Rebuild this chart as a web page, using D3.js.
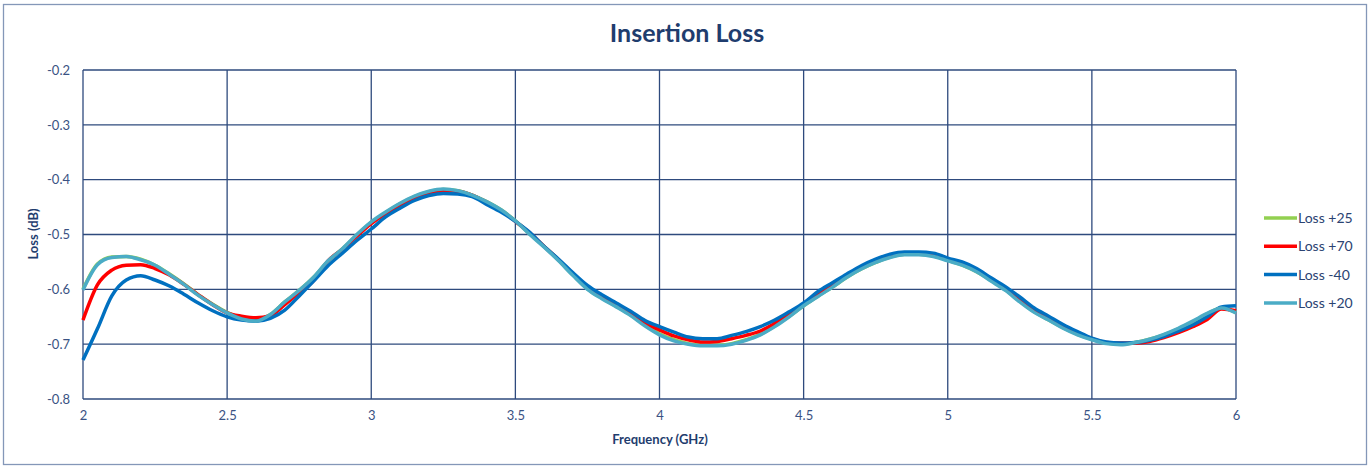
<!DOCTYPE html>
<html>
<head>
<meta charset="utf-8">
<script src="https://cdn.jsdelivr.net/npm/d3@7"></script>
<style>
  html, body { margin: 0; padding: 0; background: #fff; }
  svg { display: block; font-family: Lato, "Open Sans", sans-serif; }
</style>
</head>
<body>
<div id="chart"></div>
<script>
// frequency points (GHz)
const freq = [2.00,2.05,2.10,2.15,2.20,2.25,2.30,2.35,2.40,2.45,2.50,2.55,2.60,2.65,2.70,2.75,2.80,2.85,2.90,2.95,
  3.00,3.05,3.10,3.15,3.20,3.25,3.30,3.35,3.40,3.45,3.50,3.55,3.60,3.65,3.70,3.75,3.80,3.85,3.90,3.95,
  4.00,4.05,4.10,4.15,4.20,4.25,4.30,4.35,4.40,4.45,4.50,4.55,4.60,4.65,4.70,4.75,4.80,4.85,4.90,4.95,
  5.00,5.05,5.10,5.15,5.20,5.25,5.30,5.35,5.40,5.45,5.50,5.55,5.60,5.65,5.70,5.75,5.80,5.85,5.90,5.95,6.00];

const loss25 = [-0.600,-0.554,-0.541,-0.540,-0.545,-0.556,-0.572,-0.590,-0.610,-0.627,-0.642,-0.653,-0.657,-0.646,-0.623,-0.602,-0.578,-0.549,-0.526,-0.501,
  -0.478,-0.460,-0.444,-0.431,-0.422,-0.418,-0.420,-0.428,-0.440,-0.455,-0.475,-0.499,-0.522,-0.547,-0.574,-0.599,-0.616,-0.631,-0.647,-0.665,
  -0.681,-0.692,-0.699,-0.702,-0.702,-0.699,-0.692,-0.682,-0.667,-0.649,-0.630,-0.612,-0.596,-0.578,-0.563,-0.551,-0.541,-0.536,-0.536,-0.539,
  -0.547,-0.556,-0.568,-0.584,-0.601,-0.622,-0.641,-0.656,-0.670,-0.682,-0.691,-0.698,-0.700,-0.697,-0.691,-0.683,-0.672,-0.659,-0.645,-0.634,-0.642];

const loss70 = [-0.656,-0.592,-0.565,-0.556,-0.555,-0.562,-0.574,-0.591,-0.610,-0.628,-0.643,-0.649,-0.652,-0.648,-0.628,-0.606,-0.584,-0.548,-0.527,-0.503,
  -0.480,-0.462,-0.447,-0.433,-0.424,-0.420,-0.421,-0.428,-0.441,-0.456,-0.476,-0.497,-0.522,-0.546,-0.572,-0.596,-0.613,-0.628,-0.643,-0.662,
  -0.674,-0.685,-0.692,-0.696,-0.695,-0.690,-0.684,-0.676,-0.662,-0.646,-0.628,-0.608,-0.594,-0.574,-0.560,-0.548,-0.538,-0.534,-0.534,-0.537,
  -0.545,-0.553,-0.566,-0.582,-0.600,-0.619,-0.638,-0.652,-0.667,-0.679,-0.690,-0.697,-0.698,-0.698,-0.695,-0.688,-0.679,-0.668,-0.655,-0.636,-0.639];

const lossM40 = [-0.729,-0.672,-0.612,-0.583,-0.575,-0.583,-0.594,-0.609,-0.625,-0.639,-0.650,-0.656,-0.658,-0.653,-0.638,-0.612,-0.585,-0.557,-0.534,-0.511,
  -0.490,-0.468,-0.452,-0.438,-0.429,-0.425,-0.426,-0.431,-0.445,-0.459,-0.476,-0.496,-0.522,-0.545,-0.570,-0.593,-0.610,-0.625,-0.640,-0.657,
  -0.668,-0.678,-0.687,-0.690,-0.690,-0.684,-0.677,-0.668,-0.656,-0.641,-0.625,-0.604,-0.588,-0.572,-0.557,-0.545,-0.536,-0.532,-0.532,-0.534,
  -0.543,-0.550,-0.562,-0.579,-0.595,-0.614,-0.634,-0.649,-0.664,-0.677,-0.689,-0.696,-0.698,-0.697,-0.693,-0.686,-0.676,-0.665,-0.650,-0.632,-0.630];

const loss20 = [-0.601,-0.555,-0.542,-0.540,-0.546,-0.556,-0.573,-0.591,-0.611,-0.628,-0.643,-0.654,-0.658,-0.646,-0.623,-0.602,-0.578,-0.548,-0.526,-0.500,
  -0.477,-0.459,-0.443,-0.430,-0.421,-0.417,-0.420,-0.428,-0.440,-0.455,-0.475,-0.500,-0.523,-0.548,-0.575,-0.600,-0.617,-0.632,-0.648,-0.667,
  -0.683,-0.694,-0.700,-0.703,-0.703,-0.700,-0.693,-0.683,-0.668,-0.650,-0.630,-0.613,-0.596,-0.578,-0.563,-0.551,-0.542,-0.537,-0.537,-0.540,
  -0.548,-0.556,-0.568,-0.585,-0.602,-0.623,-0.642,-0.656,-0.671,-0.683,-0.692,-0.699,-0.701,-0.697,-0.691,-0.682,-0.671,-0.658,-0.644,-0.634,-0.643];

const seriesNames = ["Loss +25", "Loss +70", "Loss -40", "Loss +20"];
const seriesValues = [loss25, loss70, lossM40, loss20];
const seriesColors = ["#92D050", "#FF0000", "#0070C0", "#4BACC6"];

const xTicks = [2, 2.5, 3, 3.5, 4, 4.5, 5, 5.5, 6];
const yTicks = [-0.8, -0.7, -0.6, -0.5, -0.4, -0.3, -0.2];

// layout
const W = 1370, H = 468;
const plot = { left: 83, right: 1236, top: 70, bottom: 399 };
const navy = "#1F3D6E";
const gridColor = "#2E4A7D";
const tickColor = "#3A5283";

const x = d3.scaleLinear().domain([2, 6]).range([plot.left, plot.right]);
const y = d3.scaleLinear().domain([-0.8, -0.2]).range([plot.bottom, plot.top]);

const svg = d3.select("#chart").append("svg")
    .attr("width", W)
    .attr("height", H);

// outer chart border
svg.append("rect")
    .attr("x", 3.5).attr("y", 4.5)
    .attr("width", W - 7).attr("height", H - 8)
    .attr("fill", "#fff")
    .attr("stroke", "#8497B8")
    .attr("stroke-width", 1.3);

// title
svg.append("text")
    .attr("x", 687).attr("y", 42)
    .attr("text-anchor", "middle")
    .attr("font-size", 25)
    .attr("font-weight", "bold")
    .attr("fill", navy)
    .text("Insertion Loss");

// grid
const grid = svg.append("g").attr("stroke", gridColor).attr("stroke-width", 1.3).attr("fill", "none");
grid.selectAll("line.h").data(yTicks).join("line")
    .attr("class", "h")
    .attr("x1", plot.left).attr("x2", plot.right)
    .attr("y1", d => y(d)).attr("y2", d => y(d));
grid.selectAll("line.v").data(xTicks).join("line")
    .attr("class", "v")
    .attr("x1", d => x(d)).attr("x2", d => x(d))
    .attr("y1", plot.top).attr("y2", plot.bottom);

// axes labels
const yAxis = svg.append("g")
    .attr("transform", `translate(${plot.left},0)`)
    .call(d3.axisLeft(y).tickValues(yTicks).tickSize(0).tickPadding(13).tickFormat(d => d.toFixed(1)));
const xAxis = svg.append("g")
    .attr("transform", `translate(0,${plot.bottom})`)
    .call(d3.axisBottom(x).tickValues(xTicks).tickSize(0).tickPadding(12).tickFormat(d => d));
[xAxis, yAxis].forEach(a => {
  a.select(".domain").remove();
  a.selectAll("text")
    .attr("fill", tickColor)
    .attr("font-size", 13)
    .attr("font-family", "Lato, 'Open Sans', sans-serif");
});

svg.append("text")
    .attr("transform", "translate(38,234) rotate(-90)")
    .attr("text-anchor", "middle")
    .attr("font-size", 13)
    .attr("font-weight", "bold")
    .attr("fill", navy)
    .text("Loss (dB)");

svg.append("text")
    .attr("x", 660).attr("y", 444)
    .attr("text-anchor", "middle")
    .attr("font-size", 13)
    .attr("font-weight", "bold")
    .attr("fill", navy)
    .text("Frequency (GHz)");

// series lines
const line = d3.line()
    .x((d, i) => x(freq[i]))
    .y(d => y(d))
    .curve(d3.curveMonotoneX);

svg.append("g").selectAll("path")
  .data(seriesValues)
  .join("path")
    .attr("d", line)
    .attr("fill", "none")
    .attr("stroke", (d, i) => seriesColors[i])
    .attr("stroke-width", 3.5)
    .attr("stroke-linejoin", "round");

// legend
const legend = svg.append("g").selectAll("g")
  .data(seriesNames)
  .join("g")
    .attr("transform", (d, i) => `translate(1264,${218 + i * 28.3})`);
legend.append("line")
    .attr("x1", 0).attr("x2", 33)
    .attr("stroke", (d, i) => seriesColors[i])
    .attr("stroke-width", 3.5);
legend.append("text")
    .attr("x", 34).attr("dy", "0.35em")
    .attr("font-size", 14)
    .attr("fill", "#2B4372")
    .text(d => d);
</script>
</body>
</html>
